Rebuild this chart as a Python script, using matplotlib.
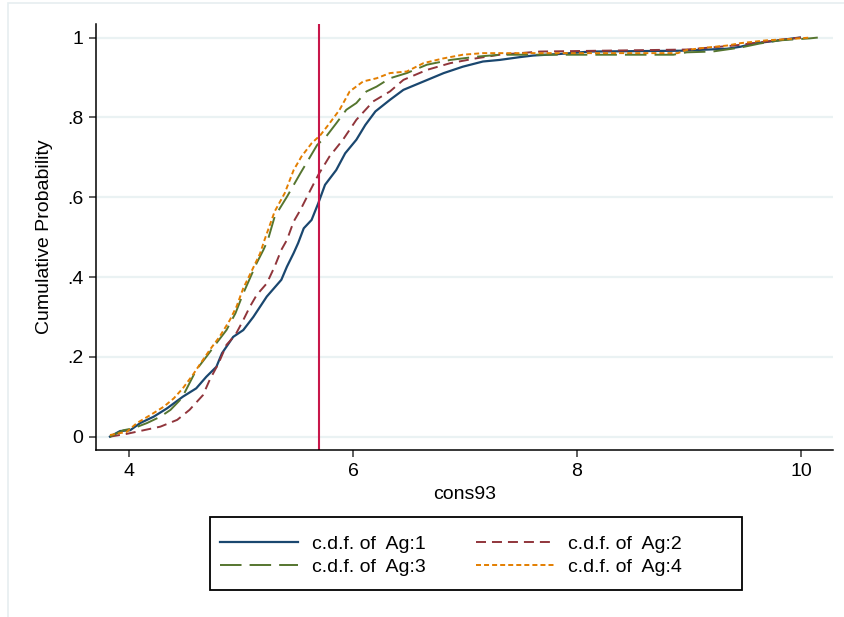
import matplotlib
matplotlib.use("Agg")
import matplotlib.pyplot as plt
from matplotlib.patches import Rectangle

plt.rcParams['font.family'] = ['Liberation Sans', 'DejaVu Sans']
plt.rcParams['lines.scale_dashes'] = False

# ---- data ----
ag1_x = [3.83, 3.92, 4.01, 4.10, 4.22, 4.34, 4.48, 4.60, 4.69, 4.78, 4.83, 4.93, 5.02, 5.11, 5.23,
         5.36, 5.41, 5.47, 5.51, 5.56, 5.63, 5.69, 5.75, 5.85, 5.93, 6.03, 6.11, 6.20, 6.33, 6.45,
         6.63, 6.81, 6.98, 7.16, 7.31, 7.49, 7.61, 7.85, 8.12, 8.92, 9.34, 9.46, 9.57, 9.75, 9.93, 9.99]
ag1_y = [0.0, 0.014, 0.016, 0.034, 0.05, 0.071, 0.10, 0.121, 0.15, 0.175, 0.209, 0.25, 0.267, 0.30, 0.351,
         0.393, 0.426, 0.46, 0.485, 0.522, 0.543, 0.585, 0.631, 0.668, 0.71, 0.744, 0.781, 0.815, 0.844, 0.869,
         0.89, 0.911, 0.927, 0.94, 0.944, 0.951, 0.955, 0.959, 0.965, 0.967, 0.972, 0.977, 0.985, 0.991, 0.998, 1.0]

ag2_x = [3.83, 3.98, 4.13, 4.28, 4.43, 4.54, 4.66, 4.72, 4.80, 4.87, 4.95, 5.02, 5.08, 5.14, 5.23,
         5.30, 5.36, 5.41, 5.47, 5.53, 5.62, 5.69, 5.79, 5.91, 6.03, 6.18, 6.33, 6.45, 6.66, 6.87,
         7.10, 7.31, 7.67, 8.98, 9.40, 9.69, 9.93, 10.0]
ag2_y = [0.0, 0.007, 0.016, 0.025, 0.042, 0.067, 0.104, 0.142, 0.184, 0.23, 0.255, 0.292, 0.326, 0.355, 0.384,
         0.426, 0.468, 0.493, 0.539, 0.568, 0.618, 0.656, 0.702, 0.744, 0.794, 0.84, 0.865, 0.894, 0.919, 0.936,
         0.948, 0.957, 0.965, 0.97, 0.98, 0.99, 0.998, 1.0]

ag3_x = [3.83, 3.95, 4.04, 4.16, 4.28, 4.37, 4.47, 4.54, 4.60, 4.69, 4.78, 4.87, 4.95, 5.02, 5.08,
         5.14, 5.20, 5.24, 5.30, 5.41, 5.53, 5.60, 5.68, 5.76, 5.85, 5.94, 6.03, 6.12, 6.21, 6.33,
         6.48, 6.66, 6.87, 7.10, 7.31, 7.67, 8.86, 8.98, 9.21, 9.46, 9.63, 9.81, 10.08, 10.15]
ag3_y = [0.0, 0.016, 0.021, 0.034, 0.05, 0.067, 0.096, 0.134, 0.167, 0.20, 0.234, 0.267, 0.309, 0.359, 0.397,
         0.435, 0.468, 0.493, 0.551, 0.601, 0.66, 0.693, 0.731, 0.752, 0.785, 0.819, 0.836, 0.865, 0.877, 0.898,
         0.911, 0.932, 0.944, 0.952, 0.957, 0.957, 0.957, 0.963, 0.965, 0.975, 0.985, 0.993, 0.998, 1.0]

ag4_x = [3.83, 3.98, 4.07, 4.19, 4.31, 4.40, 4.48, 4.57, 4.63, 4.72, 4.81, 4.90, 4.96, 5.02, 5.10,
         5.17, 5.21, 5.30, 5.39, 5.47, 5.54, 5.63, 5.71, 5.79, 5.88, 5.97, 6.09, 6.21, 6.33, 6.48,
         6.63, 6.81, 6.98, 7.16, 7.31, 8.90, 8.98, 9.16, 9.34, 9.46, 9.69, 9.99, 10.08]
ag4_y = [0.004, 0.012, 0.034, 0.054, 0.075, 0.096, 0.121, 0.155, 0.18, 0.217, 0.251, 0.292, 0.326, 0.372, 0.418,
         0.459, 0.493, 0.564, 0.61, 0.668, 0.702, 0.735, 0.756, 0.785, 0.819, 0.865, 0.89, 0.898, 0.911, 0.915,
         0.936, 0.948, 0.957, 0.961, 0.961, 0.961, 0.969, 0.975, 0.98, 0.986, 0.993, 0.998, 1.0]

series_labels = ['c.d.f. of  Ag:1', 'c.d.f. of  Ag:2', 'c.d.f. of  Ag:3', 'c.d.f. of  Ag:4']
vline_x = 5.70
x_ticks = [4, 6, 8, 10]
y_ticks = [0, 0.2, 0.4, 0.6, 0.8, 1.0]
y_tick_labels = ['0', '.2', '.4', '.6', '.8', '1']
x_label = 'cons93'
y_label = 'Cumulative Probability'

# ---- figure ----
W, H = 845, 617
FS = 14
fig = plt.figure(figsize=(W / 100, H / 100), dpi=100)
fig.patch.set_facecolor('white')
fig.add_artist(Rectangle((8 / W, -0.01), 1.02, 1 - 3 / H + 0.01, transform=fig.transFigure,
                         fill=False, edgecolor='#e6eef0', linewidth=1.2))

ax = fig.add_axes([96 / W, 1 - 450 / H, (833 - 96) / W, (450 - 24) / H])
ax.set_xlim(3.705, 10.286)
ax.set_ylim(-0.0335, 1.034)

ax.grid(axis='y', color='#eaf2f3', linewidth=1.6)
ax.set_axisbelow(True)

navy = '#1a476f'
maroon = '#90353b'
green = '#55752f'
orange = '#e37e00'

l1, = ax.plot(ag1_x, ag1_y, color=navy, lw=1.6)
l2, = ax.plot(ag2_x, ag2_y, color=maroon, lw=1.4)
l2.set_dashes([7.2, 4.3])
l3, = ax.plot(ag3_x, ag3_y, color=green, lw=1.4)
l3.set_dashes([15.5, 5.8])
l4, = ax.plot(ag4_x, ag4_y, color=orange, lw=1.4)
l4.set_dashes([3.6, 2.2])

ax.axvline(vline_x, color='#c8164a', lw=1.5)

for s in ['top', 'right']:
    ax.spines[s].set_visible(False)
for s in ['left', 'bottom']:
    ax.spines[s].set_linewidth(1.1)
    ax.spines[s].set_color('black')

ax.set_xticks(x_ticks)
ax.set_xticklabels([str(t) for t in x_ticks])
ax.set_yticks(y_ticks)
ax.set_yticklabels(y_tick_labels)
ax.tick_params(axis='both', direction='out', length=5, width=1.1, color='#333333',
               labelsize=FS, pad=4)

ax.set_xlabel(x_label, fontsize=FS, labelpad=5)
ax.set_ylabel(y_label, fontsize=FS, labelpad=10)

# legend frame drawn as a box, entries placed inside it
fig.add_artist(Rectangle((210 / W, 1 - 590 / H), 532 / W, 73 / H, transform=fig.transFigure,
                         fill=False, edgecolor='black', linewidth=1.3, zorder=5))
handles = [l1, l3, l2, l4]
labels = [series_labels[0], series_labels[2], series_labels[1], series_labels[3]]
leg = fig.legend(handles, labels, loc='center left', ncol=2,
                 bbox_to_anchor=(220 / W, 1 - 555.5 / H),
                 fontsize=FS, frameon=False,
                 handlelength=4.0, handletextpad=0.72, columnspacing=2.6,
                 labelspacing=0.3, borderpad=0, borderaxespad=0)

fig.savefig('out.png', dpi=100, facecolor='white')
